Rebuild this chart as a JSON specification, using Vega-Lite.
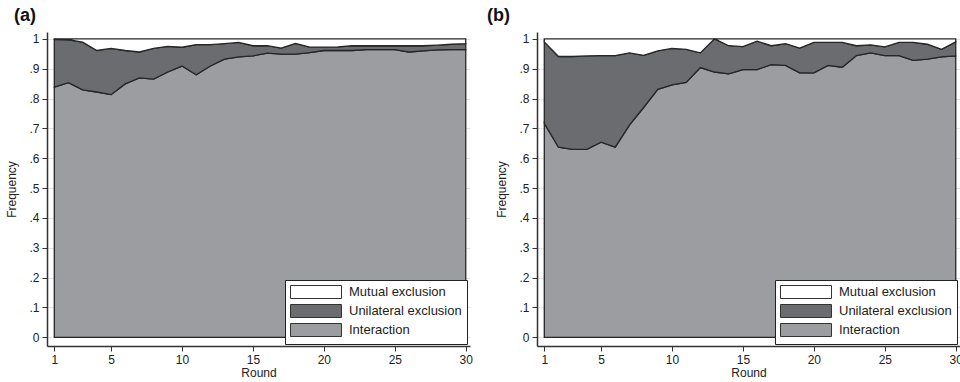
{
  "$schema": "https://vega.github.io/schema/vega-lite/v6.json",
  "autosize": "none",
  "padding": {"left": 47, "top": 32, "right": 913, "bottom": 36},
  "background": "white",
  "datasets": {
    "a": [
      {"r":1,"k":"Interaction","y0":0,"y1":0.838},{"r":1,"k":"Unilateral exclusion","y0":0.838,"y1":0.998},{"r":1,"k":"Mutual exclusion","y0":0.998,"y1":1},
      {"r":2,"k":"Interaction","y0":0,"y1":0.853},{"r":2,"k":"Unilateral exclusion","y0":0.853,"y1":0.997},{"r":2,"k":"Mutual exclusion","y0":0.997,"y1":1},
      {"r":3,"k":"Interaction","y0":0,"y1":0.829},{"r":3,"k":"Unilateral exclusion","y0":0.829,"y1":0.989},{"r":3,"k":"Mutual exclusion","y0":0.989,"y1":1},
      {"r":4,"k":"Interaction","y0":0,"y1":0.822},{"r":4,"k":"Unilateral exclusion","y0":0.822,"y1":0.961},{"r":4,"k":"Mutual exclusion","y0":0.961,"y1":1},
      {"r":5,"k":"Interaction","y0":0,"y1":0.813},{"r":5,"k":"Unilateral exclusion","y0":0.813,"y1":0.968},{"r":5,"k":"Mutual exclusion","y0":0.968,"y1":1},
      {"r":6,"k":"Interaction","y0":0,"y1":0.849},{"r":6,"k":"Unilateral exclusion","y0":0.849,"y1":0.961},{"r":6,"k":"Mutual exclusion","y0":0.961,"y1":1},
      {"r":7,"k":"Interaction","y0":0,"y1":0.869},{"r":7,"k":"Unilateral exclusion","y0":0.869,"y1":0.956},{"r":7,"k":"Mutual exclusion","y0":0.956,"y1":1},
      {"r":8,"k":"Interaction","y0":0,"y1":0.865},{"r":8,"k":"Unilateral exclusion","y0":0.865,"y1":0.968},{"r":8,"k":"Mutual exclusion","y0":0.968,"y1":1},
      {"r":9,"k":"Interaction","y0":0,"y1":0.889},{"r":9,"k":"Unilateral exclusion","y0":0.889,"y1":0.975},{"r":9,"k":"Mutual exclusion","y0":0.975,"y1":1},
      {"r":10,"k":"Interaction","y0":0,"y1":0.909},{"r":10,"k":"Unilateral exclusion","y0":0.909,"y1":0.972},{"r":10,"k":"Mutual exclusion","y0":0.972,"y1":1},
      {"r":11,"k":"Interaction","y0":0,"y1":0.880},{"r":11,"k":"Unilateral exclusion","y0":0.880,"y1":0.981},{"r":11,"k":"Mutual exclusion","y0":0.981,"y1":1},
      {"r":12,"k":"Interaction","y0":0,"y1":0.909},{"r":12,"k":"Unilateral exclusion","y0":0.909,"y1":0.981},{"r":12,"k":"Mutual exclusion","y0":0.981,"y1":1},
      {"r":13,"k":"Interaction","y0":0,"y1":0.932},{"r":13,"k":"Unilateral exclusion","y0":0.932,"y1":0.984},{"r":13,"k":"Mutual exclusion","y0":0.984,"y1":1},
      {"r":14,"k":"Interaction","y0":0,"y1":0.940},{"r":14,"k":"Unilateral exclusion","y0":0.940,"y1":0.988},{"r":14,"k":"Mutual exclusion","y0":0.988,"y1":1},
      {"r":15,"k":"Interaction","y0":0,"y1":0.943},{"r":15,"k":"Unilateral exclusion","y0":0.943,"y1":0.977},{"r":15,"k":"Mutual exclusion","y0":0.977,"y1":1},
      {"r":16,"k":"Interaction","y0":0,"y1":0.952},{"r":16,"k":"Unilateral exclusion","y0":0.952,"y1":0.977},{"r":16,"k":"Mutual exclusion","y0":0.977,"y1":1},
      {"r":17,"k":"Interaction","y0":0,"y1":0.949},{"r":17,"k":"Unilateral exclusion","y0":0.949,"y1":0.969},{"r":17,"k":"Mutual exclusion","y0":0.969,"y1":1},
      {"r":18,"k":"Interaction","y0":0,"y1":0.949},{"r":18,"k":"Unilateral exclusion","y0":0.949,"y1":0.985},{"r":18,"k":"Mutual exclusion","y0":0.985,"y1":1},
      {"r":19,"k":"Interaction","y0":0,"y1":0.954},{"r":19,"k":"Unilateral exclusion","y0":0.954,"y1":0.972},{"r":19,"k":"Mutual exclusion","y0":0.972,"y1":1},
      {"r":20,"k":"Interaction","y0":0,"y1":0.961},{"r":20,"k":"Unilateral exclusion","y0":0.961,"y1":0.972},{"r":20,"k":"Mutual exclusion","y0":0.972,"y1":1},
      {"r":21,"k":"Interaction","y0":0,"y1":0.961},{"r":21,"k":"Unilateral exclusion","y0":0.961,"y1":0.973},{"r":21,"k":"Mutual exclusion","y0":0.973,"y1":1},
      {"r":22,"k":"Interaction","y0":0,"y1":0.961},{"r":22,"k":"Unilateral exclusion","y0":0.961,"y1":0.977},{"r":22,"k":"Mutual exclusion","y0":0.977,"y1":1},
      {"r":23,"k":"Interaction","y0":0,"y1":0.964},{"r":23,"k":"Unilateral exclusion","y0":0.964,"y1":0.977},{"r":23,"k":"Mutual exclusion","y0":0.977,"y1":1},
      {"r":24,"k":"Interaction","y0":0,"y1":0.964},{"r":24,"k":"Unilateral exclusion","y0":0.964,"y1":0.977},{"r":24,"k":"Mutual exclusion","y0":0.977,"y1":1},
      {"r":25,"k":"Interaction","y0":0,"y1":0.964},{"r":25,"k":"Unilateral exclusion","y0":0.964,"y1":0.977},{"r":25,"k":"Mutual exclusion","y0":0.977,"y1":1},
      {"r":26,"k":"Interaction","y0":0,"y1":0.956},{"r":26,"k":"Unilateral exclusion","y0":0.956,"y1":0.977},{"r":26,"k":"Mutual exclusion","y0":0.977,"y1":1},
      {"r":27,"k":"Interaction","y0":0,"y1":0.960},{"r":27,"k":"Unilateral exclusion","y0":0.960,"y1":0.977},{"r":27,"k":"Mutual exclusion","y0":0.977,"y1":1},
      {"r":28,"k":"Interaction","y0":0,"y1":0.963},{"r":28,"k":"Unilateral exclusion","y0":0.963,"y1":0.979},{"r":28,"k":"Mutual exclusion","y0":0.979,"y1":1},
      {"r":29,"k":"Interaction","y0":0,"y1":0.964},{"r":29,"k":"Unilateral exclusion","y0":0.964,"y1":0.982},{"r":29,"k":"Mutual exclusion","y0":0.982,"y1":1},
      {"r":30,"k":"Interaction","y0":0,"y1":0.964},{"r":30,"k":"Unilateral exclusion","y0":0.964,"y1":0.984},{"r":30,"k":"Mutual exclusion","y0":0.984,"y1":1}
    ],
    "b": [
      {"r":1,"k":"Interaction","y0":0,"y1":0.717},{"r":1,"k":"Unilateral exclusion","y0":0.717,"y1":0.990},{"r":1,"k":"Mutual exclusion","y0":0.990,"y1":1},
      {"r":2,"k":"Interaction","y0":0,"y1":0.637},{"r":2,"k":"Unilateral exclusion","y0":0.637,"y1":0.941},{"r":2,"k":"Mutual exclusion","y0":0.941,"y1":1},
      {"r":3,"k":"Interaction","y0":0,"y1":0.630},{"r":3,"k":"Unilateral exclusion","y0":0.630,"y1":0.941},{"r":3,"k":"Mutual exclusion","y0":0.941,"y1":1},
      {"r":4,"k":"Interaction","y0":0,"y1":0.630},{"r":4,"k":"Unilateral exclusion","y0":0.630,"y1":0.943},{"r":4,"k":"Mutual exclusion","y0":0.943,"y1":1},
      {"r":5,"k":"Interaction","y0":0,"y1":0.654},{"r":5,"k":"Unilateral exclusion","y0":0.654,"y1":0.944},{"r":5,"k":"Mutual exclusion","y0":0.944,"y1":1},
      {"r":6,"k":"Interaction","y0":0,"y1":0.637},{"r":6,"k":"Unilateral exclusion","y0":0.637,"y1":0.944},{"r":6,"k":"Mutual exclusion","y0":0.944,"y1":1},
      {"r":7,"k":"Interaction","y0":0,"y1":0.711},{"r":7,"k":"Unilateral exclusion","y0":0.711,"y1":0.953},{"r":7,"k":"Mutual exclusion","y0":0.953,"y1":1},
      {"r":8,"k":"Interaction","y0":0,"y1":0.770},{"r":8,"k":"Unilateral exclusion","y0":0.770,"y1":0.945},{"r":8,"k":"Mutual exclusion","y0":0.945,"y1":1},
      {"r":9,"k":"Interaction","y0":0,"y1":0.831},{"r":9,"k":"Unilateral exclusion","y0":0.831,"y1":0.960},{"r":9,"k":"Mutual exclusion","y0":0.960,"y1":1},
      {"r":10,"k":"Interaction","y0":0,"y1":0.846},{"r":10,"k":"Unilateral exclusion","y0":0.846,"y1":0.968},{"r":10,"k":"Mutual exclusion","y0":0.968,"y1":1},
      {"r":11,"k":"Interaction","y0":0,"y1":0.854},{"r":11,"k":"Unilateral exclusion","y0":0.854,"y1":0.965},{"r":11,"k":"Mutual exclusion","y0":0.965,"y1":1},
      {"r":12,"k":"Interaction","y0":0,"y1":0.904},{"r":12,"k":"Unilateral exclusion","y0":0.904,"y1":0.953},{"r":12,"k":"Mutual exclusion","y0":0.953,"y1":1},
      {"r":13,"k":"Interaction","y0":0,"y1":0.889},{"r":13,"k":"Unilateral exclusion","y0":0.889,"y1":1.000},{"r":13,"k":"Mutual exclusion","y0":1.000,"y1":1},
      {"r":14,"k":"Interaction","y0":0,"y1":0.883},{"r":14,"k":"Unilateral exclusion","y0":0.883,"y1":0.977},{"r":14,"k":"Mutual exclusion","y0":0.977,"y1":1},
      {"r":15,"k":"Interaction","y0":0,"y1":0.897},{"r":15,"k":"Unilateral exclusion","y0":0.897,"y1":0.974},{"r":15,"k":"Mutual exclusion","y0":0.974,"y1":1},
      {"r":16,"k":"Interaction","y0":0,"y1":0.897},{"r":16,"k":"Unilateral exclusion","y0":0.897,"y1":0.992},{"r":16,"k":"Mutual exclusion","y0":0.992,"y1":1},
      {"r":17,"k":"Interaction","y0":0,"y1":0.914},{"r":17,"k":"Unilateral exclusion","y0":0.914,"y1":0.977},{"r":17,"k":"Mutual exclusion","y0":0.977,"y1":1},
      {"r":18,"k":"Interaction","y0":0,"y1":0.911},{"r":18,"k":"Unilateral exclusion","y0":0.911,"y1":0.984},{"r":18,"k":"Mutual exclusion","y0":0.984,"y1":1},
      {"r":19,"k":"Interaction","y0":0,"y1":0.886},{"r":19,"k":"Unilateral exclusion","y0":0.886,"y1":0.969},{"r":19,"k":"Mutual exclusion","y0":0.969,"y1":1},
      {"r":20,"k":"Interaction","y0":0,"y1":0.886},{"r":20,"k":"Unilateral exclusion","y0":0.886,"y1":0.988},{"r":20,"k":"Mutual exclusion","y0":0.988,"y1":1},
      {"r":21,"k":"Interaction","y0":0,"y1":0.911},{"r":21,"k":"Unilateral exclusion","y0":0.911,"y1":0.988},{"r":21,"k":"Mutual exclusion","y0":0.988,"y1":1},
      {"r":22,"k":"Interaction","y0":0,"y1":0.905},{"r":22,"k":"Unilateral exclusion","y0":0.905,"y1":0.988},{"r":22,"k":"Mutual exclusion","y0":0.988,"y1":1},
      {"r":23,"k":"Interaction","y0":0,"y1":0.944},{"r":23,"k":"Unilateral exclusion","y0":0.944,"y1":0.977},{"r":23,"k":"Mutual exclusion","y0":0.977,"y1":1},
      {"r":24,"k":"Interaction","y0":0,"y1":0.953},{"r":24,"k":"Unilateral exclusion","y0":0.953,"y1":0.980},{"r":24,"k":"Mutual exclusion","y0":0.980,"y1":1},
      {"r":25,"k":"Interaction","y0":0,"y1":0.944},{"r":25,"k":"Unilateral exclusion","y0":0.944,"y1":0.973},{"r":25,"k":"Mutual exclusion","y0":0.973,"y1":1},
      {"r":26,"k":"Interaction","y0":0,"y1":0.944},{"r":26,"k":"Unilateral exclusion","y0":0.944,"y1":0.988},{"r":26,"k":"Mutual exclusion","y0":0.988,"y1":1},
      {"r":27,"k":"Interaction","y0":0,"y1":0.928},{"r":27,"k":"Unilateral exclusion","y0":0.928,"y1":0.988},{"r":27,"k":"Mutual exclusion","y0":0.988,"y1":1},
      {"r":28,"k":"Interaction","y0":0,"y1":0.932},{"r":28,"k":"Unilateral exclusion","y0":0.932,"y1":0.982},{"r":28,"k":"Mutual exclusion","y0":0.982,"y1":1},
      {"r":29,"k":"Interaction","y0":0,"y1":0.940},{"r":29,"k":"Unilateral exclusion","y0":0.940,"y1":0.965},{"r":29,"k":"Mutual exclusion","y0":0.965,"y1":1},
      {"r":30,"k":"Interaction","y0":0,"y1":0.943},{"r":30,"k":"Unilateral exclusion","y0":0.943,"y1":0.990},{"r":30,"k":"Mutual exclusion","y0":0.990,"y1":1}
    ]
  },
  "config": {
    "font": "Liberation Sans",
    "view": {"stroke": null},
    "axis": {
      "domainColor": "#333333",
      "domainWidth": 1.5,
      "tickColor": "#333333",
      "tickWidth": 1,
      "tickSize": 5,
      "labelColor": "#222222",
      "labelFontSize": 12,
      "titleFontSize": 12,
      "titleFontWeight": "normal",
      "titleColor": "#222222",
      "labelPadding": 3,
      "labelOverlap": false
    },
    "concat": {"spacing": 67},
    "title": {"anchor": "start", "frame": "group", "fontSize": 18, "fontWeight": "bold", "color": "#111111", "offset": 7}
  },
  "bounds": "flush",
  "resolve": {"scale": {"color": "independent"}},
  "hconcat": [
    {
      "width": 423,
      "height": 314,
      "title": {"text": "(a)", "dx": -33},
      "data": {"name": "a"},
      "mark": {"type": "area", "stroke": "#262626", "strokeWidth": 1.3, "opacity": 1},
      "encoding": {
        "x": {"field": "r", "type": "quantitative",
              "scale": {"domain": [0.486, 30.3], "nice": false, "zero": false},
              "axis": {"values": [1, 5, 10, 15, 20, 25, 30], "grid": false, "title": "Round", "titlePadding": 2}},
        "y": {"field": "y1", "type": "quantitative", "stack": null,
              "scale": {"domain": [-0.029, 1.023], "nice": false, "zero": false},
              "axis": {"values": [0, 0.1, 0.2, 0.3, 0.4, 0.5, 0.6, 0.7, 0.8, 0.9, 1], "grid": true, "gridColor": "#e4e4e4", "gridWidth": 1.2,
                       "labelExpr": "datum.value == 0 ? '0' : datum.value == 1 ? '1' : '.' + round(datum.value * 10)",
                       "title": "Frequency", "titlePadding": 10}},
        "y2": {"field": "y0"},
        "color": {"field": "k", "type": "nominal",
                  "scale": {"domain": ["Mutual exclusion", "Unilateral exclusion", "Interaction"], "range": ["#ffffff", "#6b6c70", "#9c9da1"]},
                  "legend": {"title": null, "orient": "none", "legendX": 238, "legendY": 248, "fillColor": "white", "strokeColor": "#222222",
                             "padding": 5, "labelFontSize": 13, "labelColor": "#222222", "labelOffset": 45,
                             "symbolType": "M-1,-1L6.846,-1L6.846,1L-1,1Z", "symbolSize": 169,
                             "symbolStrokeColor": "#333333", "symbolStrokeWidth": 1, "symbolOpacity": 1, "rowPadding": 1}}
      }
    },
    {
      "width": 423,
      "height": 314,
      "title": {"text": "(b)", "dx": -50},
      "data": {"name": "b"},
      "mark": {"type": "area", "stroke": "#262626", "strokeWidth": 1.3, "opacity": 1},
      "encoding": {
        "x": {"field": "r", "type": "quantitative",
              "scale": {"domain": [0.486, 30.3], "nice": false, "zero": false},
              "axis": {"values": [1, 5, 10, 15, 20, 25, 30], "grid": false, "title": "Round", "titlePadding": 2}},
        "y": {"field": "y1", "type": "quantitative", "stack": null,
              "scale": {"domain": [-0.029, 1.023], "nice": false, "zero": false},
              "axis": {"values": [0, 0.1, 0.2, 0.3, 0.4, 0.5, 0.6, 0.7, 0.8, 0.9, 1], "grid": true, "gridColor": "#e4e4e4", "gridWidth": 1.2,
                       "labelExpr": "datum.value == 0 ? '0' : datum.value == 1 ? '1' : '.' + round(datum.value * 10)",
                       "title": "Frequency", "titlePadding": 10}},
        "y2": {"field": "y0"},
        "color": {"field": "k", "type": "nominal",
                  "scale": {"domain": ["Mutual exclusion", "Unilateral exclusion", "Interaction"], "range": ["#ffffff", "#6b6c70", "#9c9da1"]},
                  "legend": {"title": null, "orient": "none", "legendX": 238, "legendY": 248, "fillColor": "white", "strokeColor": "#222222",
                             "padding": 5, "labelFontSize": 13, "labelColor": "#222222", "labelOffset": 45,
                             "symbolType": "M-1,-1L6.846,-1L6.846,1L-1,1Z", "symbolSize": 169,
                             "symbolStrokeColor": "#333333", "symbolStrokeWidth": 1, "symbolOpacity": 1, "rowPadding": 1}}
      }
    }
  ]
}
